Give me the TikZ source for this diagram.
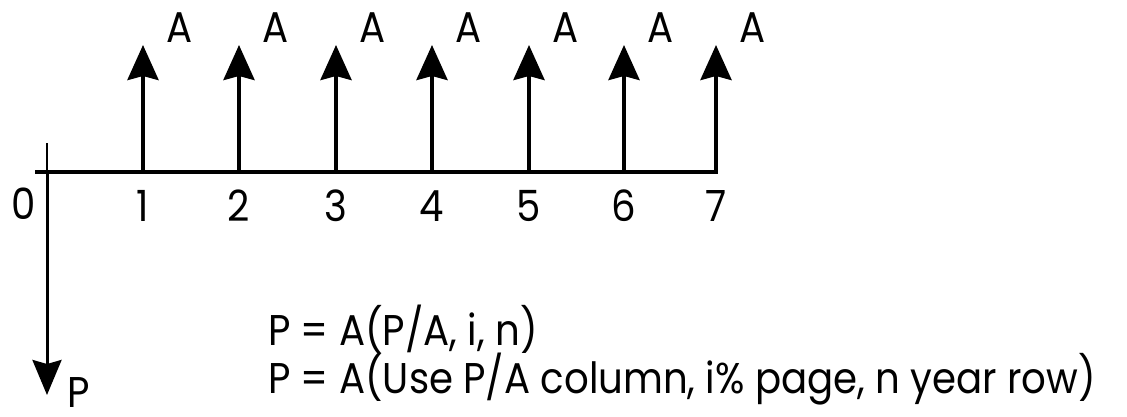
\documentclass[tikz,border=0pt]{standalone}
\usepackage{fontspec}
\setmainfont{Poppins}[FakeStretch=0.9]
\usepackage{tikz}
\usetikzlibrary{positioning,calc,arrows.meta}

\begin{document}
\begin{tikzpicture}[x=1pt,y=1pt,
		flow/.style={line width=4pt, -{Stealth[length=35pt,width=31pt,inset=4pt]}},
		lbl/.style={font=\fontsize{43}{50}\selectfont, inner sep=0pt}]
		\useasboundingbox (0,0) rectangle (1127,416);
		
		% time axis
		\coordinate (left) at (35,244);
		\coordinate (right) at (718,244);
		\draw[line width=4pt] (left)--(right);
		
		% present value, paid at time 0
		\coordinate (top0) at (47,273);
		\coordinate (t0) at (47,244);
		\coordinate (bot0) at (47,21);
		\draw[line width=1.2pt] (top0)--(t0);
		\draw[line width=3pt, -{Stealth[length=35pt,width=29pt,inset=4pt]}] (t0)--(bot0);
		\node[lbl] (zero) at (24,212) {0};
		\node[lbl] (pval) at (79,23) {P};
		
		% annuity receipts
		\foreach \n/\x in {1/143,2/239,3/336,4/432,5/529,6/624,7/716}{
			\coordinate (t\n) at (\x,244);
			\coordinate (a\n) at (\x,371);
			\draw[flow] (t\n)--(a\n);
			\node[lbl] (yr\n) at (\x,210) {\n};
			\node[lbl, shift={(37,17)}] (amt\n) at (a\n) {A};
		}
		
		\node[lbl, anchor=base west] (eq1) at (268,71) {P = A(P/A, i, n)};
		\node[lbl, anchor=base west] (eq2) at (268,23) {P = A(Use P/A column, i\% page, n year row)};
	\end{tikzpicture}
\end{document}
